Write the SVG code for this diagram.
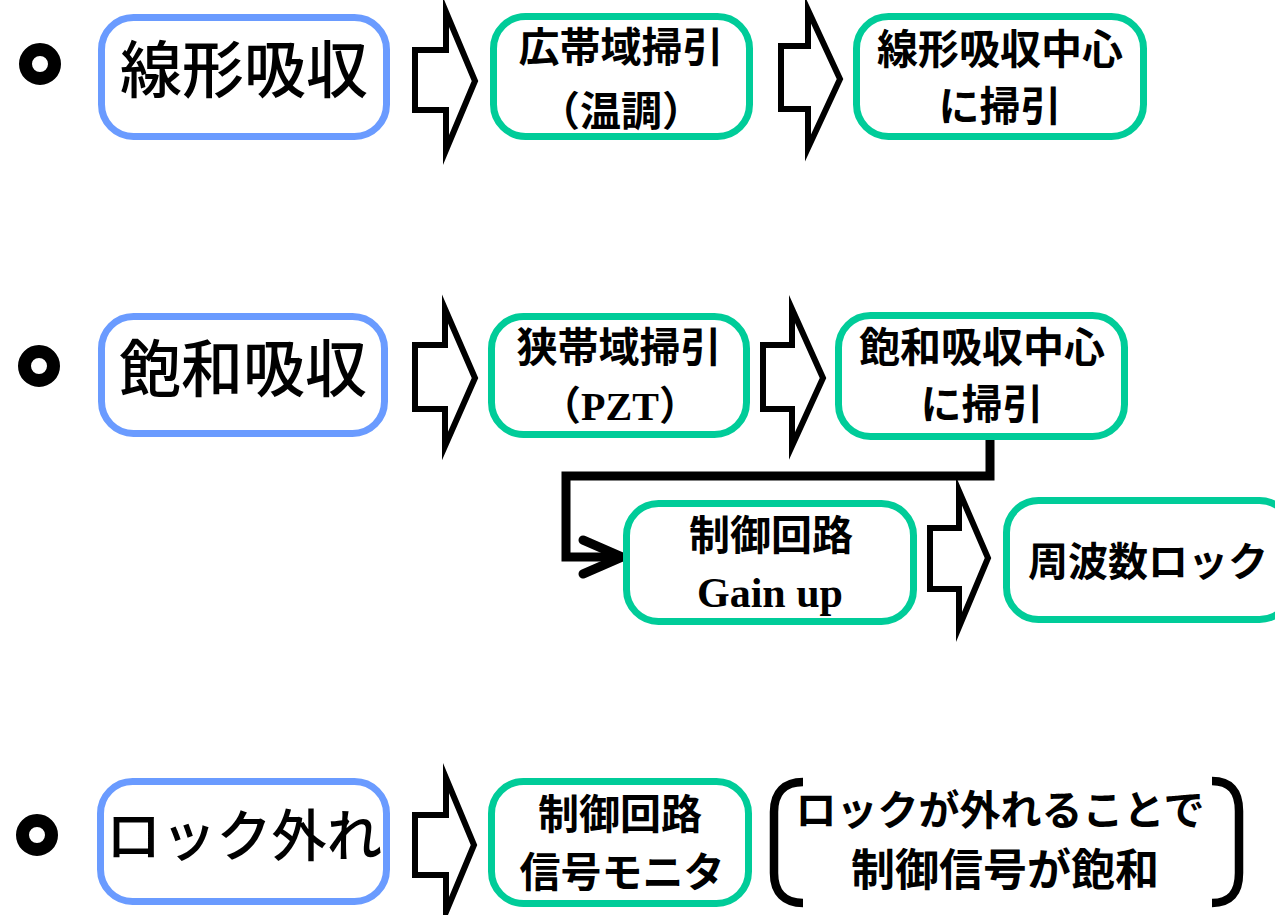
<svg xmlns="http://www.w3.org/2000/svg" width="1275" height="915" viewBox="0 0 1275 915">
<style>
.bg{fill:#ffffff}
.blue{fill:#ffffff;stroke:#6A9BFF;stroke-width:7}
.green{fill:#ffffff;stroke:#00CC99;stroke-width:7}
.big{font-family:"Noto Sans CJK JP","Noto Sans CJK SC",sans-serif;font-size:62px;font-weight:500;fill:#000;text-anchor:middle}
.t{font-family:"Noto Sans CJK JP","Noto Sans CJK SC",sans-serif;font-size:41px;font-weight:bold;fill:#000;text-anchor:middle}
.tr{font-family:"Liberation Serif","Noto Sans CJK JP",serif;font-size:42px;font-weight:bold;fill:#000;text-anchor:middle}
.arr{fill:#ffffff;stroke:#000;stroke-width:6;stroke-linejoin:miter;stroke-miterlimit:10}
.bul{fill:none;stroke:#000;stroke-width:13}
.conn{fill:none;stroke:#000;stroke-width:9;stroke-linejoin:miter}
.br{fill:none;stroke:#000;stroke-width:8.5;stroke-linecap:butt}
</style>
<defs>
<marker id="chev" markerUnits="userSpaceOnUse" viewBox="-45 -22 52 44" markerWidth="52" markerHeight="44" refX="0" refY="0" orient="auto" overflow="visible">
<path d="M-39,-17 L0,0 L-39,17" fill="none" stroke="#000" stroke-width="9" stroke-linecap="round" stroke-linejoin="round"/>
</marker>
</defs>
<rect class="bg" x="0" y="0" width="1275" height="915"/>

<g id="bullets">
<circle class="bul" cx="40" cy="64" r="14.5"/>
<circle class="bul" cx="39" cy="366" r="14.5"/>
<circle class="bul" cx="37" cy="835" r="14.5"/>
</g>

<g id="connectors">
<polygon class="arr" points="415,50 446,50 446,12 475,81 446,150 446,110 415,110"/>
<polygon class="arr" points="781,46 808,46 808,10 840,79 808,148 808,109 781,109"/>
<polygon class="arr" points="415,345 445,345 445,309 475,378 445,446 445,409 415,409"/>
<polygon class="arr" points="763,345 792,345 792,309 823,378 792,446 792,409 763,409"/>
<polygon class="arr" points="930,528 959,528 959,491 988,558 959,627 959,589 930,589"/>
<polygon class="arr" points="415,815 446,815 446,778 474,845 446,912 446,875 415,875"/>
<path class="conn" d="M990,440 V476 H566 V557 H622" marker-end="url(#chev)"/>
</g>

<g id="n_linear">
<rect class="blue" x="101.5" y="17.5" width="285" height="119" rx="32"/>
<text class="big" x="244" y="93">線形吸収</text>
</g>
<g id="n_wide_sweep">
<rect class="green" x="493.5" y="16.5" width="256" height="120" rx="32"/>
<text class="t" x="621" y="62">広帯域掃引</text>
<text class="t" x="621" y="126">（温調）</text>
</g>
<g id="n_linear_center">
<rect class="green" x="856.5" y="16.5" width="287" height="120" rx="32"/>
<text class="t" x="1000" y="64">線形吸収中心</text>
<text class="t" x="1000" y="121">に掃引</text>
</g>

<g id="n_saturated">
<rect class="blue" x="101.5" y="316.5" width="283" height="117" rx="32"/>
<text class="big" x="243" y="392">飽和吸収</text>
</g>
<g id="n_narrow_sweep">
<rect class="green" x="491.5" y="316.5" width="255" height="118" rx="32"/>
<text class="t" x="619" y="362">狭帯域掃引</text>
<text class="tr" x="620" y="420" style="font-size:40px">（PZT）</text>
</g>
<g id="n_sat_center">
<rect class="green" x="838.5" y="315.5" width="286" height="121" rx="32"/>
<text class="t" x="982" y="362">飽和吸収中心</text>
<text class="t" x="982" y="419">に掃引</text>
</g>
<g id="n_control_gain">
<rect class="green" x="626.5" y="503.5" width="287" height="118" rx="32"/>
<text class="t" x="771" y="550">制御回路</text>
<text class="tr" x="770" y="607">Gain up</text>
</g>
<g id="n_freq_lock">
<rect class="green" x="1006.5" y="500.5" width="285" height="119" rx="32"/>
<text class="t" x="1148" y="576" style="font-size:40px">周波数ロック</text>
</g>

<g id="n_unlock">
<rect class="blue" x="100.5" y="781.5" width="286" height="120" rx="32"/>
<text class="big" x="244" y="856" style="font-size:56px" textLength="276" lengthAdjust="spacingAndGlyphs">ロック外れ</text>
</g>
<g id="n_monitor">
<rect class="green" x="491.5" y="781.5" width="257" height="122" rx="32"/>
<text class="t" x="620" y="829">制御回路</text>
<text class="t" x="622" y="887">信号モニタ</text>
</g>
<g id="n_note">
<path class="br" d="M803,782 C785,782 774,792 774,812 V873 C774,893 785,903 803,903"/>
<path class="br" d="M1212,781 C1230,781 1239,791 1239,811 V873 C1239,893 1230,903 1212,903"/>
<text class="t" x="1000" y="825">ロックが外れることで</text>
<text class="t" x="1005" y="886" style="font-size:44px">制御信号が飽和</text>
</g>
</svg>
